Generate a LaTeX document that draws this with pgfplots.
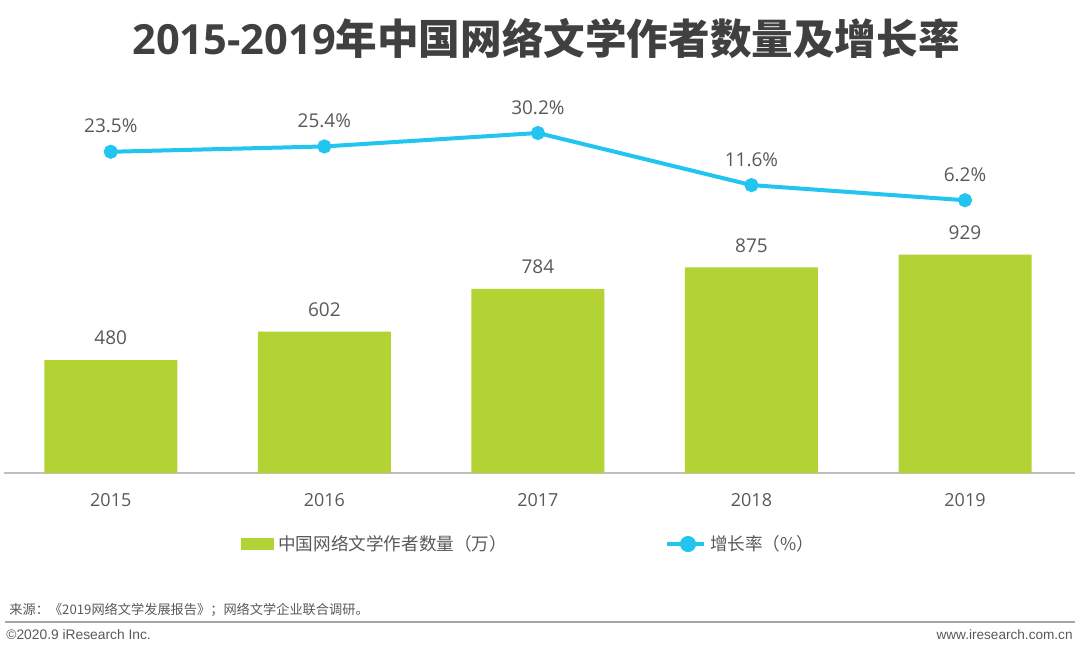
\documentclass[border=0pt]{standalone}
\usepackage{fontspec}
\usepackage{pgfplots}
\pgfplotsset{compat=1.18}
\setmainfont{Open Sans}
\newfontfamily\cjk{Noto Sans CJK SC}
\newfontfamily\foot{Liberation Sans}
\definecolor{barcolor}{HTML}{B3D334}
\definecolor{linecolor}{HTML}{22C5F0}
\definecolor{textgray}{HTML}{595959}
\definecolor{titlegray}{HTML}{404040}
\definecolor{axisgray}{HTML}{BFBFBF}
\definecolor{footgray}{HTML}{A6A6A6}
\begin{document}
\begin{tikzpicture}[x=1pt,y=1pt]
\useasboundingbox (0,0) rectangle (540,327.5);
% title
\node[anchor=base, text=titlegray, inner sep=0pt] at (273,300.5)
  {\fontsize{20.8}{24}\selectfont\bfseries 2015-2019\cjk\bfseries 年中国网络文学作者数量及增长率};
\begin{axis}[
  at={(2pt,91pt)}, anchor=south west, scale only axis,
  width=535.5pt, height=191.5pt,
  xmin=-0.5, xmax=4.515, ymin=0, ymax=1630,
  clip=false,
  axis y line=none, axis x line*=bottom,
  x axis line style={draw=axisgray, line width=1pt, -},
  xtick={0,1,2,3,4}, xticklabels={2015,2016,2017,2018,2019},
  xtick style={draw=none}, major tick length=0pt,
  xticklabel style={font=\fontsize{9}{10}\selectfont, text=textgray, yshift=-6.5pt},
  point meta=explicit symbolic,
  nodes near coords,
  every node near coord/.append style={font=\fontsize{9.5}{11}\selectfont, text=textgray, yshift=4pt},
]
\addplot[ybar, bar width=66.5pt, fill=barcolor, draw=none]
  coordinates {(0,480)[480] (1,602)[602] (2,784)[784] (3,875)[875] (4,929)[929]};
\end{axis}
\begin{axis}[
  at={(2pt,91pt)}, anchor=south west, scale only axis,
  width=535.5pt, height=191.5pt,
  xmin=-0.5, xmax=4.515, ymin=-91.2, ymax=45.56,
  clip=false,
  axis y line=none, axis x line=none,
  point meta=explicit symbolic,
  nodes near coords,
  every node near coord/.append style={font=\fontsize{9.5}{11}\selectfont, text=textgray, yshift=5pt},
  legend columns=2,
  legend cell align=left,
  legend style={at={(0.2157,-0.1854)}, anchor=west, draw=none, fill=none,
    font=\fontsize{8.8}{10}\selectfont, text=textgray,
    /tikz/every even column/.append style={column sep=77pt}},
]
\addlegendimage{legend image code/.code={\fill[barcolor] (0pt,-2.75pt) rectangle (16pt,2.75pt);}}
\addlegendentry{\cjk 中国网络文学作者数量（万）}
\addplot[linecolor, line width=2pt, mark=*, mark size=2.5pt, mark options={fill=linecolor, draw=linecolor},
  legend image code/.code={\draw[linecolor, line width=2pt] (0pt,0pt) -- (18.5pt,0pt); \fill[linecolor] (10.5pt,0pt) circle (3pt);}]
  coordinates {(0,23.5)[23.5\%] (1,25.4)[25.4\%] (2,30.2)[30.2\%] (3,11.6)[11.6\%] (4,6.2)[6.2\%]};
\addlegendentry{\cjk 增长率（\%）}
\end{axis}
% footer
\node[anchor=base west, inner sep=0pt, text=textgray] at (4.5,20.5)
  {\fontsize{6.6}{8}\selectfont\cjk 来源：《2019网络文学发展报告》；网络文学企业联合调研。};
\draw[footgray, line width=1pt] (2.5,16.75) -- (537.5,16.75);
\node[anchor=base west, inner sep=0pt, text=textgray] at (3,8)
  {\fontsize{6.9}{8}\selectfont\foot ©2020.9 iResearch Inc.};
\node[anchor=base east, inner sep=0pt, text=textgray] at (536.5,8)
  {\fontsize{6.8}{8}\selectfont\foot www.iresearch.com.cn};
\end{tikzpicture}
\end{document}
